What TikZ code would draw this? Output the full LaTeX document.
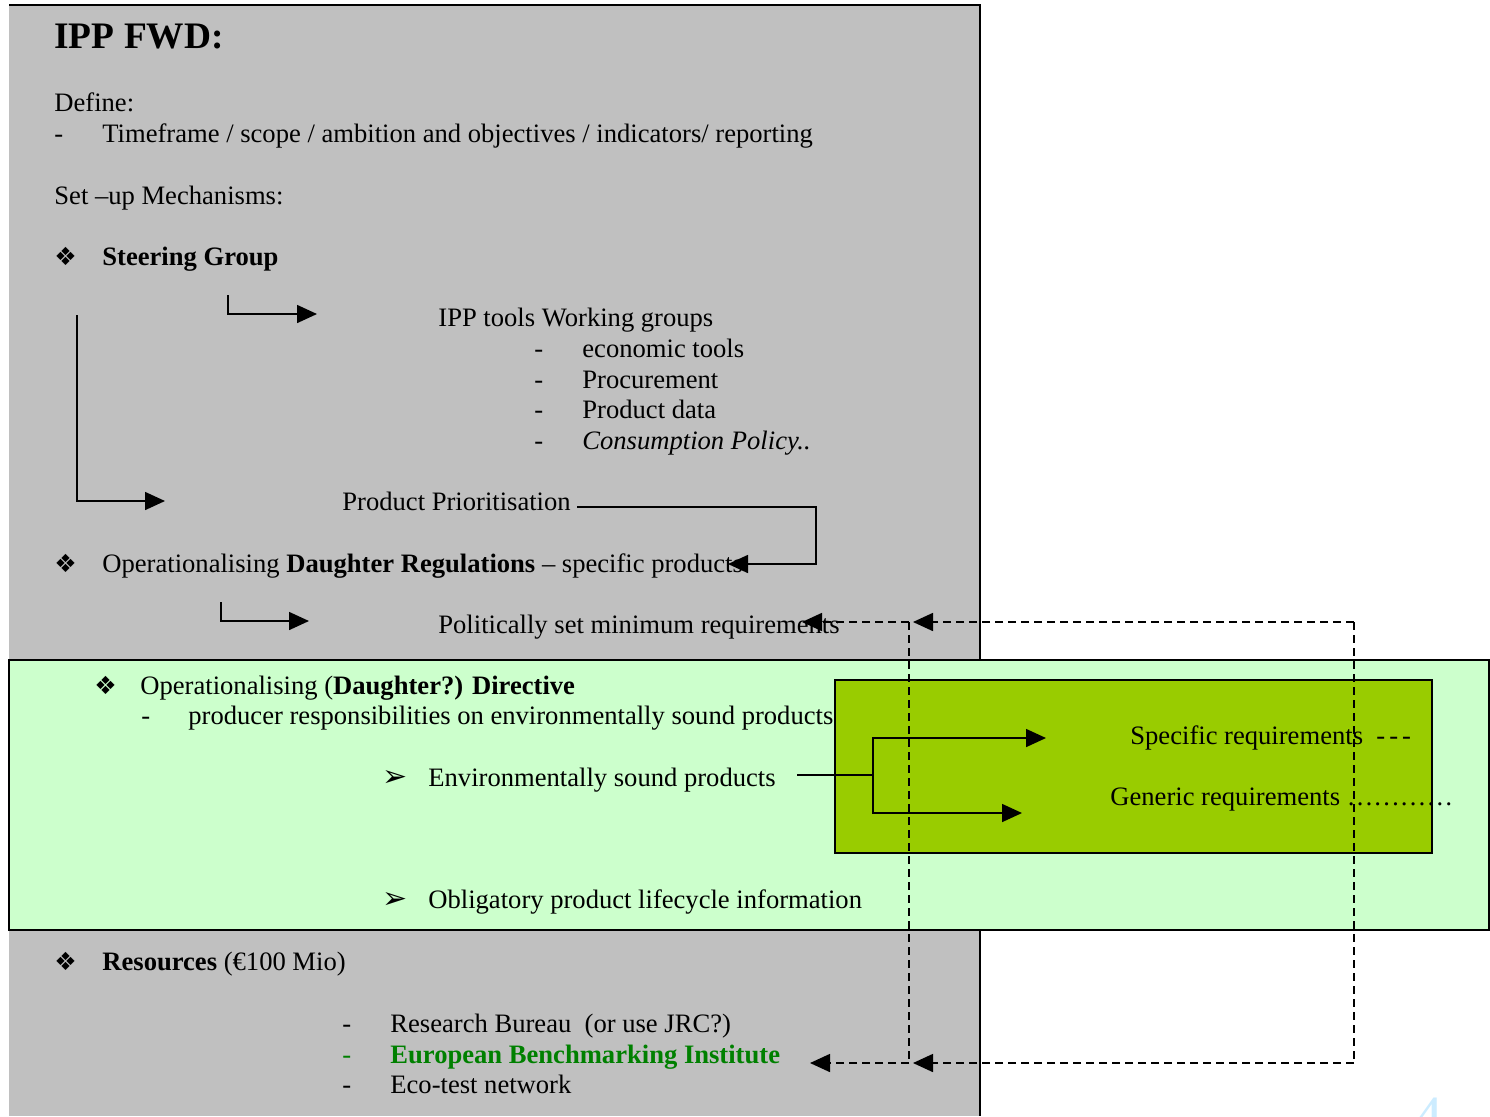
\documentclass[tikz,border=0pt]{standalone}
\usepackage{fontspec}
\setmainfont{Liberation Serif}
\newfontfamily\dingfont{DejaVu Sans}
\usetikzlibrary{arrows.meta}
\definecolor{boxgray}{HTML}{C0C0C0}
\definecolor{palegreen}{HTML}{CCFFCC}
\definecolor{leafgreen}{HTML}{99CC00}
\definecolor{textgreen}{HTML}{008000}
\definecolor{pageblue}{HTML}{CCECFF}
\tikzset{txt/.style = {anchor=base west, inner sep=0pt, font=\fontsize{13.3}{15}\selectfont}}
\tikzset{edge/.style = {-{Triangle[length=10pt,width=9pt]}, line width=0.8pt}}
\tikzset{plain/.style = {line width=0.8pt}}
\tikzset{dashline/.style = {line width=0.8pt, dash pattern=on 4pt off 2.5pt}}
\tikzset{link/.style = {edge, dashline}}
\newcommand{\dia}{{\dingfont\fontsize{12.5}{12}\selectfont ❖}}
\newcommand{\pointer}{{\dingfont\fontsize{15}{12}\selectfont ➢}}

\begin{document}
\begin{tikzpicture}[x=0.5pt, y=-0.5pt]
          \useasboundingbox (0,0) rectangle (1490,1116);
          % boxes
          \fill[boxgray] (9,5) rectangle (980,1116);
          \draw[plain] (9,5) -- (980,5) -- (980,1116);
          \draw[plain, fill=palegreen] (9,660) rectangle (1489,930);
          \draw[plain, fill=leafgreen] (835,680) rectangle (1432,853);

          % texts
          \node[txt, font=\fontsize{18.7}{20}\selectfont\bfseries] (title) at (54,48) {IPP FWD:};
          \node[txt] (define) at (54,111) {Define:};
          \node[txt] (defdash) at (54,142) {-};
          \node[txt] (defitem) at (102,142) {Timeframe / scope / ambition and objectives / indicators/ reporting};
          \node[txt] (setup) at (54,204) {Set –up Mechanisms:};
          \node[txt] (steerdia) at (54,265) {\dia};
          \node[txt] (steer) at (102,265) {\textbf{Steering Group}};
          \node[txt] (tools) at (438,326) {IPP tools Working groups};
          \foreach \y/\name/\item in {357/tooleco/economic tools, 388/toolproc/Procurement, 418/tooldata/Product data, 449/toolcons/\textit{Consumption Policy..}}
            {
              \node[txt] at (534,\y) {-};
              \node[txt] (\name) at (582,\y) {\item};
            }
          \node[txt] (prio) at (342,510) {Product Prioritisation};
          \node[txt] (daughterdia) at (54,572) {\dia};
          \node[txt] (daughter) at (102,572) {Operationalising \textbf{Daughter Regulations} – specific products};
          \node[txt] (minreq) at (438,633) {Politically set minimum requirements};
          \node[txt] (directivedia) at (94,694) {\dia};
          \node[txt] (directive) at (140,694) {Operationalising (\textbf{Daughter?) Directive}};
          \node[txt] (producerdash) at (141,724) {-};
          \node[txt] (producer) at (188,724) {producer responsibilities on environmentally sound products};
          \node[txt] (envsoundptr) at (382,786) {\pointer};
          \node[txt] (envsound) at (428,786) {Environmentally sound products};
          \node[txt] (specreq) at (1130,744) {Specific requirements\ \ -\kern2pt-\kern2pt-};
          \node[txt] (genreq) at (1110,805) {Generic requirements …………};
          \node[txt] (lifecycleptr) at (382,908) {\pointer};
          \node[txt] (lifecycle) at (428,908) {Obligatory product lifecycle information};
          \node[txt] (resourcesdia) at (54,970) {\dia};
          \node[txt] (resources) at (102,970) {\textbf{Resources} (€100 Mio)};
          \node[txt] at (342,1032) {-};
          \node[txt] (research) at (390,1032) {Research Bureau\ \ (or use JRC?)};
          \node[txt, text=textgreen] at (342,1063) {-};
          \node[txt, text=textgreen] (bench) at (390,1063) {\textbf{European Benchmarking Institute}};
          \node[txt] at (342,1093) {-};
          \node[txt] (ecotest) at (390,1093) {Eco-test network};
          \node[txt, font=\fontsize{30}{30}\selectfont, text=pageblue] (pagenum) at (1413,1137) {4};

          % solid arrows
          \coordinate (toolsin) at (228,295);
          \coordinate (toolstip) at (317,314);
          \coordinate (prioin) at (77,315);
          \coordinate (priotip) at (165,501);
          \coordinate (prioout) at (577,507);
          \coordinate (prioturn) at (816,507);
          \coordinate (daughtertip) at (728,564);
          \coordinate (minreqin) at (221,602);
          \coordinate (minreqarr) at (309,621);
          \coordinate (envout) at (797,775);
          \coordinate (envfork) at (873,775);
          \coordinate (spectip) at (1046,738);
          \coordinate (gentip) at (1022,813);

          \draw[edge] (toolsin) |- (toolstip);
          \draw[edge] (prioin) |- (priotip);
          \draw[edge] (prioout) -- (prioturn) |- (daughtertip);
          \draw[edge] (minreqin) |- (minreqarr);
          \draw[plain] (envout) -- (envfork);
          \draw[edge] (envfork) |- (spectip);
          \draw[edge] (envfork) |- (gentip);

          % dashed links
          \coordinate (linkRtop) at (1354,622);
          \coordinate (linkRbot) at (1354,1063);
          \coordinate (linkLtop) at (909,622);
          \coordinate (linkLbot) at (909,1063);
          \coordinate (linkLtoptip) at (913,622);
          \coordinate (linkLbottip) at (913,1063);
          \coordinate (minreqtip) at (802,622);
          \coordinate (benchtip) at (810,1063);

          \draw[dashline] (linkRtop) -- (linkRbot);
          \draw[dashline] (linkLtop) -- (linkLbot);
          \draw[link] (linkRtop) -- (linkLtoptip);
          \draw[link] (linkRbot) -- (linkLbottip);
          \draw[link] (linkLtop) -- (minreqtip);
          \draw[link] (linkLbot) -- (benchtip);
        \end{tikzpicture}
\end{document}
